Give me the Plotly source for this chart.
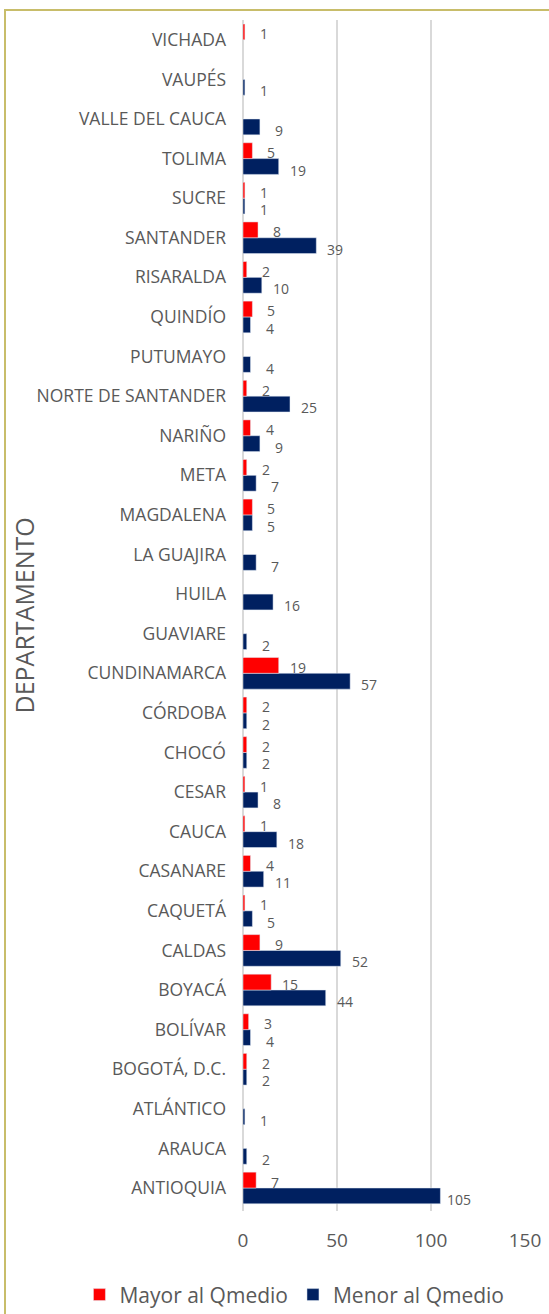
import plotly.graph_objects as go

departamentos = ["ANTIOQUIA", "ARAUCA", "ATLÁNTICO", "BOGOTÁ, D.C.", "BOLÍVAR", "BOYACÁ",
                 "CALDAS", "CAQUETÁ", "CASANARE", "CAUCA", "CESAR", "CHOCÓ", "CÓRDOBA",
                 "CUNDINAMARCA", "GUAVIARE", "HUILA", "LA GUAJIRA", "MAGDALENA", "META",
                 "NARIÑO", "NORTE DE SANTANDER", "PUTUMAYO", "QUINDÍO", "RISARALDA",
                 "SANTANDER", "SUCRE", "TOLIMA", "VALLE DEL CAUCA", "VAUPÉS", "VICHADA"]
mayor = [7, None, None, 2, 3, 15, 9, 1, 4, 1, 1, 2, 2, 19, None, None, None, 5, 2, 4, 2,
         None, 5, 2, 8, 1, 5, None, None, 1]
menor = [105, 2, 1, 2, 4, 44, 52, 5, 11, 18, 8, 2, 2, 57, 2, 16, 7, 5, 7, 9, 25, 4, 4, 10,
         39, 1, 19, 9, 1, None]
x_ticks = [0, 50, 100, 150]

FONT = "Open Sans"
GRAY = "#595959"

fig = go.Figure()
fig.add_trace(go.Bar(
    y=departamentos, x=menor, orientation="h", name="Menor al Qmedio",
    marker=dict(color="#002060"), legendrank=2, hoverinfo="x+y",
))
fig.add_trace(go.Bar(
    y=departamentos, x=mayor, orientation="h", name="Mayor al Qmedio",
    marker=dict(color="#FF0000"), legendrank=1, hoverinfo="x+y",
))

# data labels (Excel-style: a little past the bar end, slightly below the bar centre)
annotations = []
for series, yshift in ((mayor, 6), (menor, -11.5)):
    for dep, v in zip(departamentos, series):
        if v is None:
            continue
        annotations.append(dict(x=v, y=dep, xref="x", yref="y", text=str(v),
                                showarrow=False, xanchor="center", yanchor="middle",
                                xshift=19, yshift=yshift,
                                font=dict(family=FONT, size=14, color=GRAY)))

annotations.append(dict(text="DEPARTAMENTO", textangle=-90, xref="paper", yref="paper",
                        x=(23 - 243) / 282, y=0.5, xanchor="center", yanchor="middle",
                        showarrow=False, font=dict(size=25, color=GRAY)))

fig.update_layout(
    width=549, height=1314,
    margin=dict(l=243, r=24, t=20, b=103, autoexpand=False),
    barmode="group", bargap=0.2, bargroupgap=0,
    paper_bgcolor="white", plot_bgcolor="white",
    font=dict(family=FONT, color=GRAY),
    showlegend=True,
    legend=dict(orientation="h", x=-0.58, xanchor="left", y=-0.0705, yanchor="middle",
                font=dict(size=21, color=GRAY), traceorder="normal"),
    xaxis=dict(range=[0, 150], tickvals=x_ticks, showgrid=True, gridcolor="#D9D9D9",
               gridwidth=1.5, zeroline=True, zerolinecolor="#D9D9D9", zerolinewidth=1.5,
               tickfont=dict(size=19, color=GRAY), ticklabelstandoff=16, showline=False,
               automargin=False),
    yaxis=dict(showgrid=False, tickfont=dict(size=17.5, color=GRAY), ticklabelstandoff=16,
               automargin=False, showline=False),
    annotations=annotations,
    shapes=[dict(type="rect", xref="paper", yref="paper",
                 x0=(5 - 243) / 282, x1=1.3, y0=-0.2, y1=(1211 - 10) / 1191,
                 line=dict(color="#C8BD6A", width=2), fillcolor="rgba(0,0,0,0)", layer="below")],
)

fig.write_html("out.html", config={"displayModeBar": False},
               post_script="document.body.style.margin='0';document.body.style.overflow='hidden';")
